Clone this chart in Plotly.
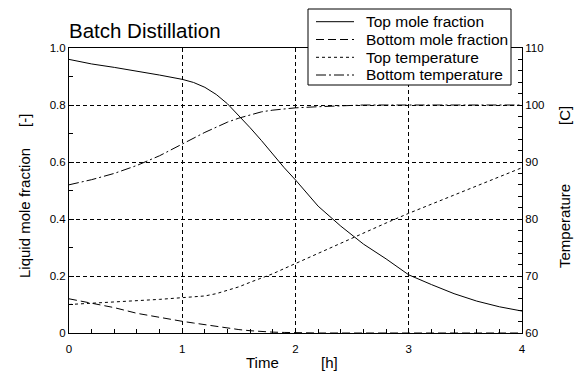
import plotly.graph_objects as go

# ---- data ----
time_h = [0, 0.2, 0.4, 0.6, 0.8, 1.0, 1.1, 1.2, 1.3, 1.4, 1.5, 1.6, 1.7, 1.8, 1.9,
          2.0, 2.2, 2.4, 2.6, 2.8, 3.0, 3.2, 3.4, 3.6, 3.8, 4.0]

top_mole_fraction = [0.960, 0.944, 0.932, 0.919, 0.905, 0.890, 0.879, 0.862, 0.837, 0.804,
                     0.763, 0.720, 0.675, 0.627, 0.580, 0.537, 0.445, 0.375, 0.312, 0.260,
                     0.204, 0.170, 0.138, 0.112, 0.092, 0.077]

bottom_mole_fraction = [0.120, 0.104, 0.089, 0.069, 0.054, 0.041, 0.035, 0.029, 0.022, 0.016,
                        0.012, 0.008, 0.005, 0.003, 0.002, 0.001, 0.0, 0.0, 0.0, 0.0,
                        0.0, 0.0, 0.0, 0.0, 0.0, 0.0]

top_temperature = [65.0, 65.2, 65.4, 65.6, 65.9, 66.2, 66.3, 66.5, 66.9, 67.5,
                   68.1, 68.9, 69.6, 70.4, 71.3, 72.2, 73.9, 75.7, 77.5, 79.3,
                   81.0, 82.6, 84.2, 85.8, 87.4, 89.0]

bottom_temperature = [86.0, 86.9, 88.0, 89.4, 91.1, 93.2, 94.2, 95.2, 96.1, 97.0,
                      97.7, 98.3, 98.8, 99.1, 99.3, 99.5, 99.7, 99.9, 100.0, 100.0,
                      100.0, 100.0, 100.0, 100.0, 100.0, 100.0]

series_names = ["Top mole fraction", "Bottom mole fraction", "Top temperature", "Bottom temperature"]

x_ticks = [0, 1, 2, 3, 4]
x_tick_labels = ["0", "1", "2", "3", "4"]
y_ticks = [0, 0.2, 0.4, 0.6, 0.8, 1.0]
y_tick_labels = ["0", "0.2", "0.4", "0.6", "0.8", "1.0"]
y2_ticks = [60, 70, 80, 90, 100, 110]
y2_tick_labels = ["60", "70", "80", "90", "100", "110"]

FONT = "Arial, 'Liberation Sans', sans-serif"
BLACK = "#000000"
DASHES = ["solid", "8px,4px", "3px,3px", "10px,3px,2px,3px"]

W, H = 579, 374
L, R, T, B = 69, 522, 48, 333  # plot area in pixels


def px_x(p):
    return (p - L) / (R - L)


def px_y(p):
    return (B - p) / (B - T)


fig = go.Figure()
series = [(top_mole_fraction, "y"), (bottom_mole_fraction, "y"),
          (top_temperature, "y2"), (bottom_temperature, "y2")]
for (vals, ax), name, dash in zip(series, series_names, DASHES):
    fig.add_trace(go.Scatter(x=time_h, y=vals, mode="lines", name=name, yaxis=ax,
                             showlegend=False,
                             line=dict(color=BLACK, width=1, dash=dash)))

axis_common = dict(showline=True, linecolor=BLACK, linewidth=1, zeroline=False,
                   ticks="inside", tickcolor=BLACK, ticklen=5, automargin=False,
                   tickfont=dict(family=FONT, size=11.5, color=BLACK))

fig.update_layout(
    width=W, height=H,
    margin=dict(l=L, r=W - R, t=T, b=H - B, autoexpand=False),
    paper_bgcolor="white", plot_bgcolor="white",
    font=dict(family=FONT, color=BLACK),
    title=dict(text="Batch Distillation", x=L / W, xanchor="left",
               y=1 - 31 / H, yanchor="middle", yref="container",
               font=dict(family=FONT, size=20.5, color=BLACK)),
    xaxis=dict(range=[0, 4], tickvals=x_ticks, ticktext=x_tick_labels, mirror=True,
               showgrid=True, gridcolor=BLACK, gridwidth=1, griddash="4px,3px",
               ticklabelstandoff=5,
               minor=dict(dtick=0.2, ticks="inside", ticklen=4, tickcolor=BLACK),
               **axis_common),
    yaxis=dict(range=[0, 1], tickvals=y_ticks, ticktext=y_tick_labels,
               showgrid=True, gridcolor=BLACK, gridwidth=1, griddash="4px,3px",
               minor=dict(dtick=0.1, ticks="inside", ticklen=4, tickcolor=BLACK),
               **axis_common),
    yaxis2=dict(range=[60, 110], tickvals=y2_ticks, ticktext=y2_tick_labels,
                overlaying="y", side="right", showgrid=False,
                minor=dict(dtick=2, ticks="inside", ticklen=4, tickcolor=BLACK),
                **axis_common),
    showlegend=False,
)

# ---- legend box (drawn by hand to match the compact original) ----
fig.add_shape(type="rect", xref="paper", yref="paper",
              x0=px_x(308), x1=px_x(511), y0=px_y(85), y1=px_y(9),
              line=dict(color=BLACK, width=1), fillcolor="white", layer="above")
row_y = [21.7, 39.5, 57.3, 75.0]
for name, dash, ry in zip(series_names, DASHES, row_y):
    fig.add_shape(type="line", xref="paper", yref="paper",
                  x0=px_x(316), x1=px_x(354), y0=px_y(ry), y1=px_y(ry),
                  line=dict(color=BLACK, width=1, dash=dash), layer="above")
    fig.add_annotation(text=name, x=px_x(364), y=px_y(ry), xref="paper", yref="paper",
                       xanchor="left", yanchor="middle", showarrow=False,
                       font=dict(family=FONT, size=15.5, color=BLACK))

# ---- axis titles ----
title_font = dict(family=FONT, size=15, color=BLACK)
annots = [
    ("Liquid mole fraction", 24, 213, -90),
    ("[-]", 24, 121, -90),
    ("Temperature", 565, 226, -90),
    ("[C]", 565, 116, -90),
    ("Time", 262, 363, 0),
    ("[h]", 329, 363, 0),
]
for txt, ppx, ppy, ang in annots:
    fig.add_annotation(text=txt, x=px_x(ppx), y=px_y(ppy), xref="paper", yref="paper",
                       xanchor="center", yanchor="middle", textangle=ang,
                       showarrow=False, font=title_font)

fig.write_html("out.html", config={"displayModeBar": False},
               post_script="document.body.style.margin='0px';")
